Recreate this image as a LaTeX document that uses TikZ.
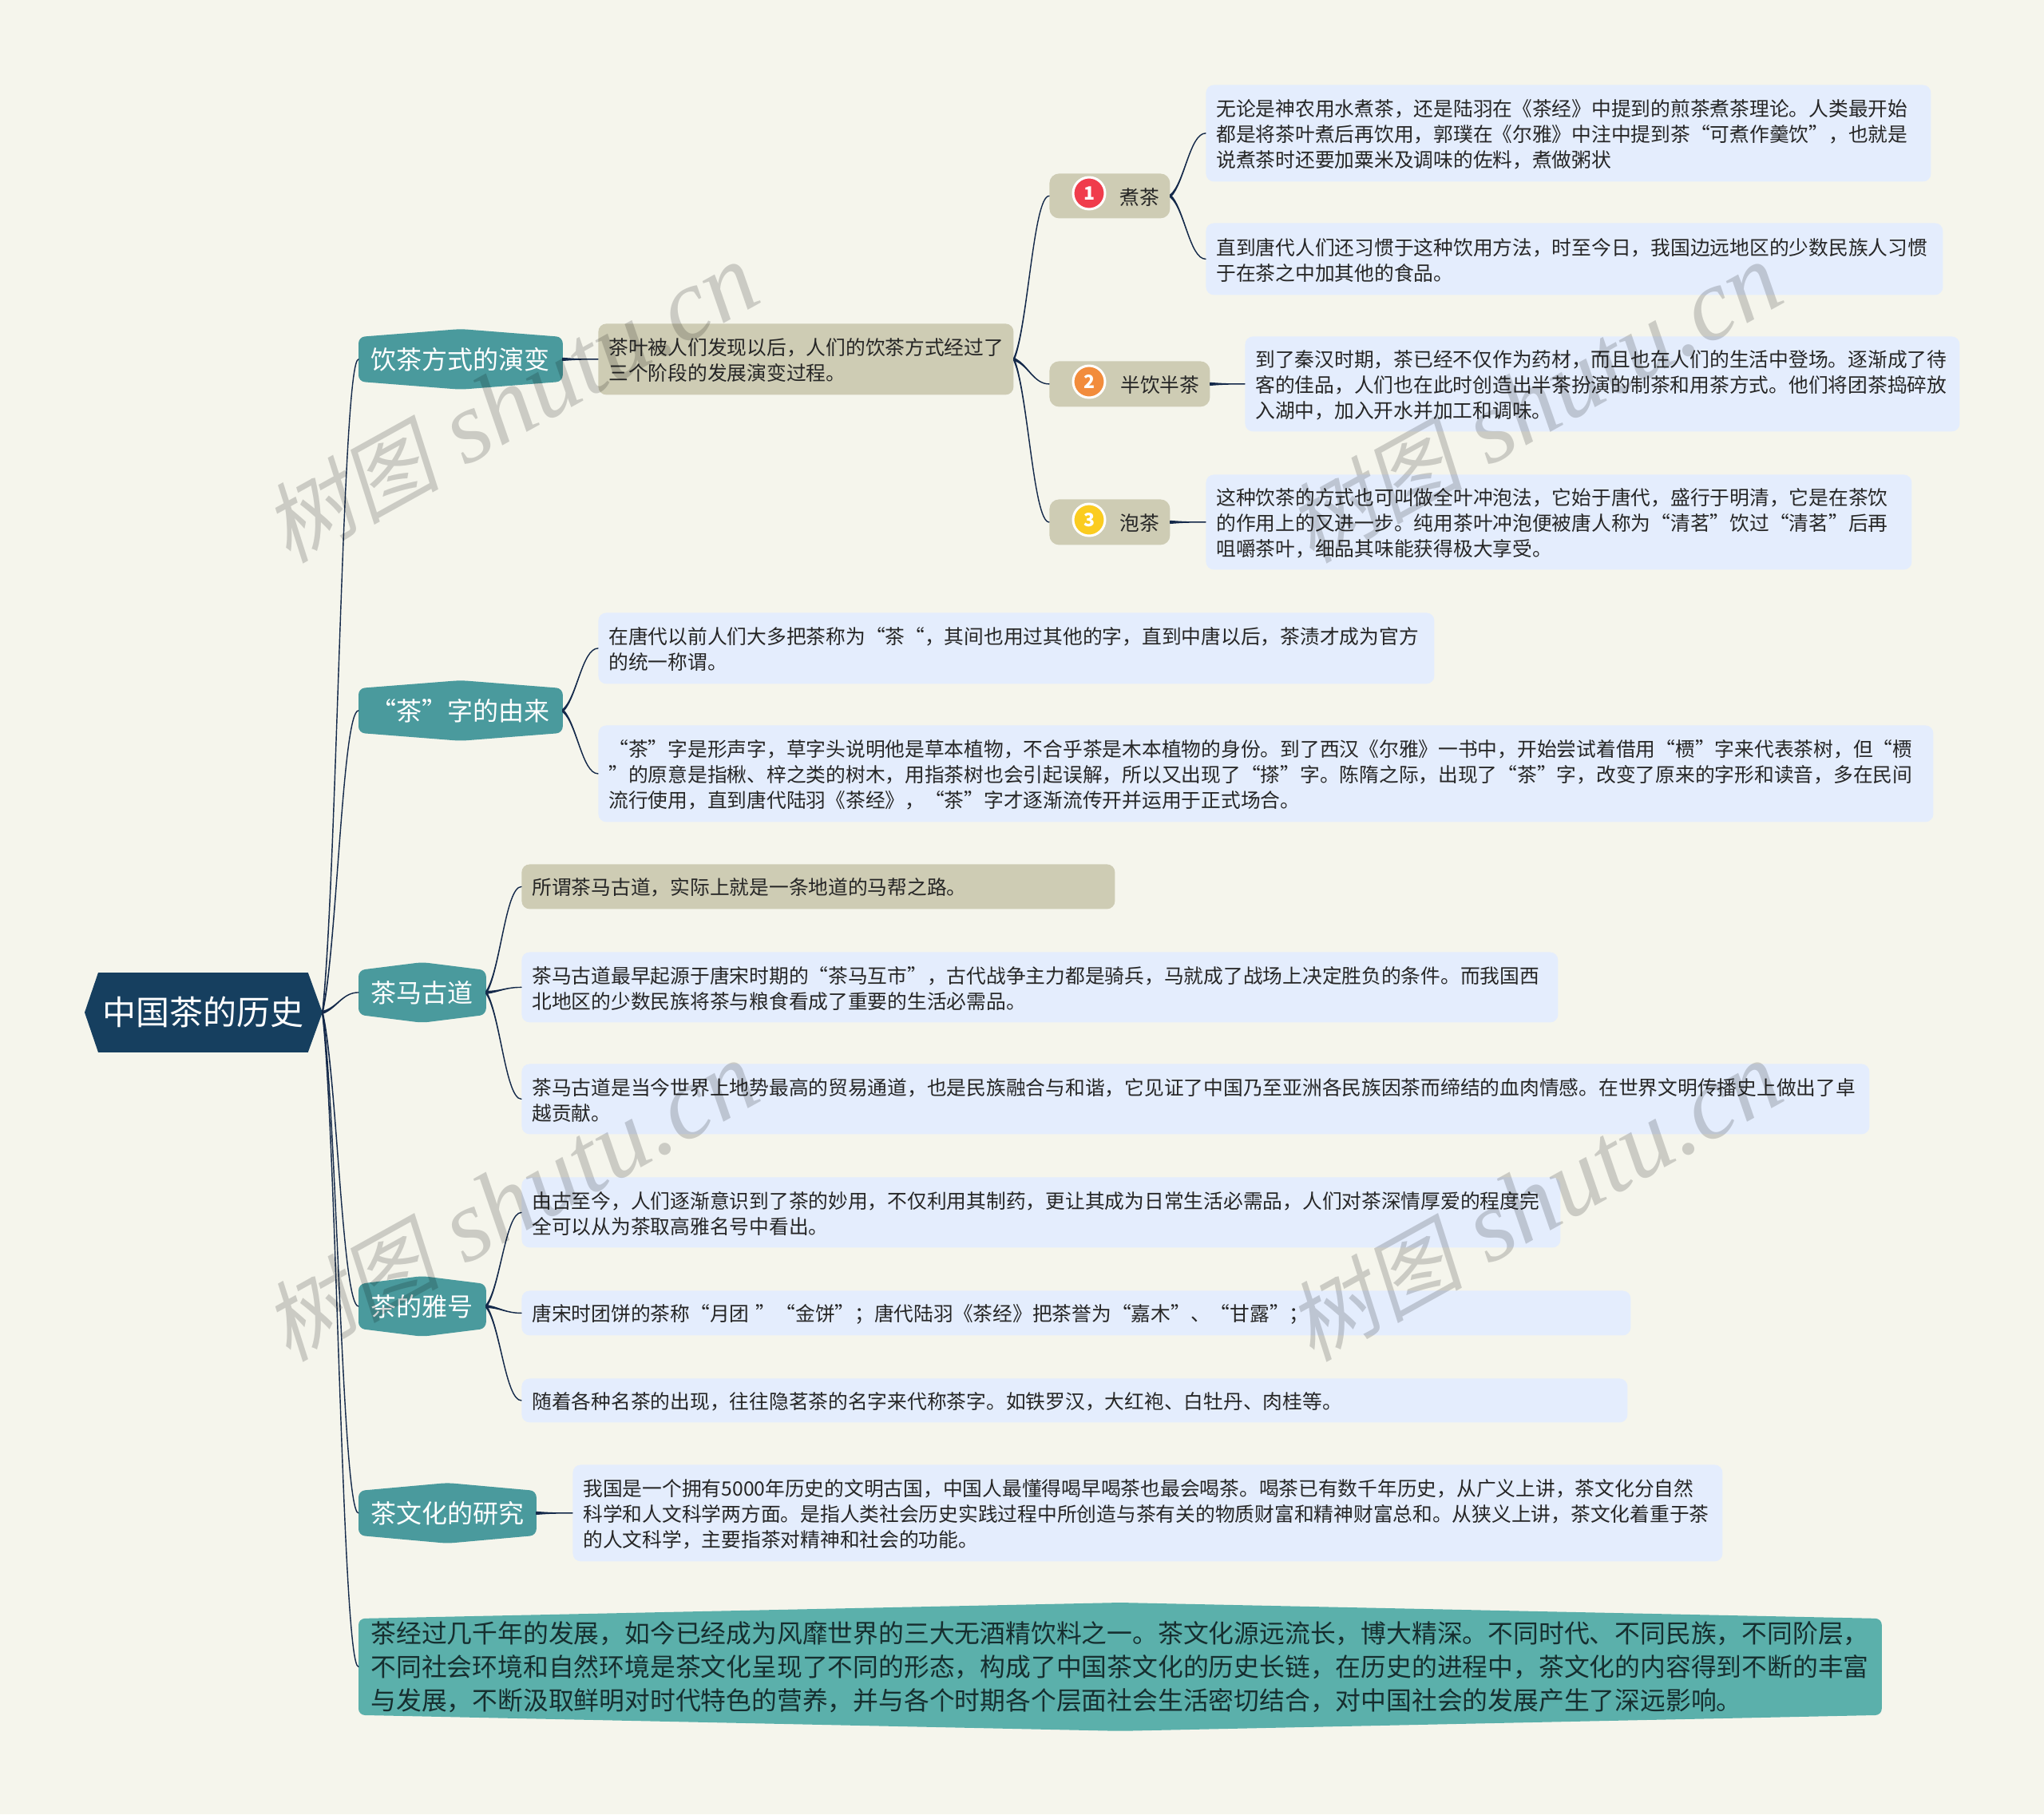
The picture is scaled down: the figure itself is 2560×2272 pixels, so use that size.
\documentclass[tikz,border=0pt]{standalone}
\usepackage{fontspec}
\usetikzlibrary{calc,backgrounds}
\setmainfont{Noto Sans CJK SC}
\newfontfamily\wmcjk[FakeSlant=0.2]{Noto Sans CJK SC}
\newfontfamily\wmlat{Liberation Serif}
\AtBeginDocument{\lineskiplimit=-50pt\relax}
\definecolor{pagebg}{HTML}{F5F5EC}
\definecolor{navy}{HTML}{163F5F}
\definecolor{linkc}{HTML}{14294A}
\definecolor{teal1}{HTML}{4A9A9D}
\definecolor{teal2}{HTML}{5BB0AB}
\definecolor{tan1}{HTML}{CECCB4}
\definecolor{blue1}{HTML}{E4EDFD}
\definecolor{ink}{HTML}{262626}
\definecolor{badgered}{HTML}{F03C4C}
\definecolor{badgeorange}{HTML}{F28C3C}
\definecolor{badgeyellow}{HTML}{FBCC20}
\tikzset{
  bx/.code 2 args={\pgfmathsetmacro\bxtw{#1*.5-13}\tikzset{text width=\bxtw pt,minimum width=#1*.5pt,minimum height=#2*.5pt}},
  base/.style={anchor=north west,inner xsep=6.5pt,inner ysep=0pt,align=left,text=ink,font=\fontsize{12.37}{16}\selectfont},
  nudged/.style={base,execute at begin node={\rule{0pt}{11.9pt}}},
  leaf/.style={nudged,fill=blue1,rounded corners=5pt},
  tanbox/.style={nudged,fill=tan1,rounded corners=5pt},
  subbox/.style={nudged,fill=tan1,rounded corners=6pt,align=right},
  topic/.style={base,align=center,text=white,font=\fontsize{16}{20}\selectfont},
  rootnode/.style={base,align=center,text=white,font=\fontsize{21}{26}\selectfont},
  finalnode/.style={base,inner xsep=7.5pt,text=black!70!teal1,font=\fontsize{15.9}{21}\selectfont},
  badge/.style={circle,draw=white,line width=1.5pt,inner sep=0pt,minimum size=20pt,text=white,font=\fontsize{11.5}{12}\selectfont\bfseries},
  linkstyle/.style={fill=linkc,draw=linkc,line width=.7pt,line join=round},
  wm/.style={rotate=29,text=black,text opacity=.17,inner sep=0pt},
}
% tapered connector running from one named anchor to another
\newcommand\lnk[2]{\path[linkstyle] let \p1=(#1),\p2=(#2) in
  (\x1,\y1+.7pt) .. controls ({\x1+.4*(\x2-\x1)},{\y1+.2*(\y2-\y1)}) and ({\x1+.55*(\x2-\x1)},\y2) .. (\p2)
  .. controls ({\x1+.55*(\x2-\x1)},\y2) and ({\x1+.4*(\x2-\x1)},{\y1+.2*(\y2-\y1)}) .. (\x1,\y1-.7pt) -- cycle;}
% six-sided body behind a named node
\newcommand\hexbg[3]{\begin{pgfonlayer}{background}
  \fill[#2,rounded corners=4pt] (#1.north west) -- ($(#1.north)+(0,#3)$) -- (#1.north east) -- (#1.south east)
    -- ($(#1.south)+(0,-#3)$) -- (#1.south west) -- cycle;
  \end{pgfonlayer}}
\newcommand\wmtext{\fontsize{55}{66}\selectfont\wmcjk 树图\hspace{16pt}\fontsize{64}{66}\selectfont\wmlat\itshape shutu.cn}
\begin{document}
\begin{tikzpicture}[x=.5pt,y=-.5pt]
\useasboundingbox (0,0) rectangle (2560,2272);
\begin{pgfonlayer}{background}
\fill[pagebg] (0,0) rectangle (2560,2272);
\end{pgfonlayer}

% root
\node[rootnode,bx={297}{99}] (root) at (106,1218) {中国茶的历史};
\begin{pgfonlayer}{background}
\fill[navy] (root.west) -- ($(root.north west)+(8.5pt,0)$) -- ($(root.north east)+(-9pt,0)$) -- (root.east)
  -- ($(root.south east)+(-9pt,0)$) -- ($(root.south west)+(8.5pt,0)$) -- cycle;
\end{pgfonlayer}

% main topics
\node[topic,bx={255}{55}] (t1) at (449,422) {饮茶方式的演变};
\node[topic,bx={255}{55}] (t2) at (449,862) {“茶”字的由来};
\node[topic,bx={159}{55}] (t3) at (449,1215) {茶马古道};
\node[topic,bx={159}{55}] (t4) at (449,1608) {茶的雅号};
\node[topic,bx={222}{55}] (t5) at (449,1867) {茶文化的研究};
\node[finalnode,bx={1903}{120}] (t6) at (449,2027) {茶经过几千年的发展，如今已经成为风靡世界的三大无酒精饮料之一。茶文化源远流长，博大精深。不同时代、不同民族，不同阶层，\\
不同社会环境和自然环境是茶文化呈现了不同的形态，构成了中国茶文化的历史长链，在历史的进程中，茶文化的内容得到不断的丰富\\
与发展，不断汲取鲜明对时代特色的营养，并与各个时期各个层面社会生活密切结合，对中国社会的发展产生了深远影响。};
\hexbg{t1}{teal1}{5pt}
\hexbg{t2}{teal1}{5pt}
\hexbg{t3}{teal1}{5pt}
\hexbg{t4}{teal1}{5pt}
\hexbg{t5}{teal1}{5pt}
\hexbg{t6}{teal2}{10pt}

% branch 1
\node[tanbox,bx={520}{89}] (intro) at (749,405) {茶叶被人们发现以后，人们的饮茶方式经过了\\三个阶段的发展演变过程。};
\node[subbox,bx={151}{56}] (s1) at (1314,217) {煮茶};
\node[subbox,bx={201}{57}] (s2) at (1314,452) {半饮半茶};
\node[subbox,bx={151}{57}] (s3) at (1314,625) {泡茶};
\node[badge,fill=badgered] (i1) at (1364,242) {1};
\node[badge,fill=badgeorange] (i2) at (1364,478) {2};
\node[badge,fill=badgeyellow] (i3) at (1364,651) {3};
\node[leaf,bx={908}{121}] (a1) at (1510,106) {无论是神农用水煮茶，还是陆羽在《茶经》中提到的煎茶煮茶理论。人类最开始\\都是将茶叶煮后再饮用，郭璞在《尔雅》中注中提到茶“可煮作羹饮”，也就是\\说煮茶时还要加粟米及调味的佐料，煮做粥状};
\node[leaf,bx={923}{90}] (a2) at (1510,279) {直到唐代人们还习惯于这种饮用方法，时至今日，我国边远地区的少数民族人习惯\\于在茶之中加其他的食品。};
\node[leaf,bx={895}{119}] (a3) at (1559,421) {到了秦汉时期，茶已经不仅作为药材，而且也在人们的生活中登场。逐渐成了待\\客的佳品，人们也在此时创造出半茶扮演的制茶和用茶方式。他们将团茶捣碎放\\入湖中，加入开水并加工和调味。};
\node[leaf,bx={884}{119}] (a4) at (1510,594) {这种饮茶的方式也可叫做全叶冲泡法，它始于唐代，盛行于明清，它是在茶饮\\的作用上的又进一步。纯用茶叶冲泡便被唐人称为“清茗”饮过“清茗”后再\\咀嚼茶叶，细品其味能获得极大享受。};

% branch 2
\node[leaf,bx={1047}{89}] (b1) at (749,767) {在唐代以前人们大多把茶称为“茶“，其间也用过其他的字，直到中唐以后，茶渍才成为官方\\的统一称谓。};
\node[leaf,bx={1672}{121}] (b2) at (749,908) {“茶”字是形声字，草字头说明他是草本植物，不合乎茶是木本植物的身份。到了西汉《尔雅》一书中，开始尝试着借用“槚”字来代表茶树，但“槚\\”的原意是指楸、梓之类的树木，用指茶树也会引起误解，所以又出现了“搽”字。陈隋之际，出现了“茶”字，改变了原来的字形和读音，多在民间\\流行使用，直到唐代陆羽《茶经》，“茶”字才逐渐流传开并运用于正式场合。};

% branch 3
\node[tanbox,bx={743}{56}] (c1) at (653,1082) {所谓茶马古道，实际上就是一条地道的马帮之路。};
\node[leaf,bx={1298}{88}] (c2) at (653,1192) {茶马古道最早起源于唐宋时期的“茶马互市”，古代战争主力都是骑兵，马就成了战场上决定胜负的条件。而我国西\\北地区的少数民族将茶与粮食看成了重要的生活必需品。};
\node[leaf,bx={1688}{88}] (c3) at (653,1332) {茶马古道是当今世界上地势最高的贸易通道，也是民族融合与和谐，它见证了中国乃至亚洲各民族因茶而缔结的血肉情感。在世界文明传播史上做出了卓\\越贡献。};

% branch 4
\node[leaf,bx={1301}{88}] (d1) at (653,1474) {由古至今，人们逐渐意识到了茶的妙用，不仅利用其制药，更让其成为日常生活必需品，人们对茶深情厚爱的程度完\\全可以从为茶取高雅名号中看出。};
\node[leaf,bx={1389}{56}] (d2) at (653,1616) {唐宋时团饼的茶称“月团 ”“金饼”；唐代陆羽《茶经》把茶誉为“嘉木”、“甘露”；};
\node[leaf,bx={1385}{55}] (d3) at (653,1726) {随着各种名茶的出现，往往隐茗茶的名字来代称茶字。如铁罗汉，大红袍、白牡丹、肉桂等。};

% branch 5
\node[leaf,bx={1440}{121}] (e1) at (717,1834) {我国是一个拥有5000年历史的文明古国，中国人最懂得喝早喝茶也最会喝茶。喝茶已有数千年历史，从广义上讲，茶文化分自然\\科学和人文科学两方面。是指人类社会历史实践过程中所创造与茶有关的物质财富和精神财富总和。从狭义上讲，茶文化着重于茶\\的人文科学，主要指茶对精神和社会的功能。};

% connectors
\foreach \k in {t1,t2,t3,t4,t5,t6}{\lnk{root.east}{\k.west}}
\lnk{t1.east}{intro.west}
\lnk{intro.east}{s1.west}
\lnk{intro.east}{s2.west}
\lnk{intro.east}{s3.west}
\lnk{s1.east}{a1.west}
\lnk{s1.east}{a2.west}
\lnk{s2.east}{a3.west}
\lnk{s3.east}{a4.west}
\lnk{t2.east}{b1.west}
\lnk{t2.east}{b2.west}
\lnk{t3.east}{c1.west}
\lnk{t3.east}{c2.west}
\lnk{t3.east}{c3.west}
\lnk{t4.east}{d1.west}
\lnk{t4.east}{d2.west}
\lnk{t4.east}{d3.west}
\lnk{t5.east}{e1.west}

% watermarks
\node[wm] (w1) at (640,505) {\wmtext};
\node[wm] (w2) at (1922,505) {\wmtext};
\node[wm] (w3) at (640,1505) {\wmtext};
\node[wm] (w4) at (1922,1505) {\wmtext};
\end{tikzpicture}
\end{document}
